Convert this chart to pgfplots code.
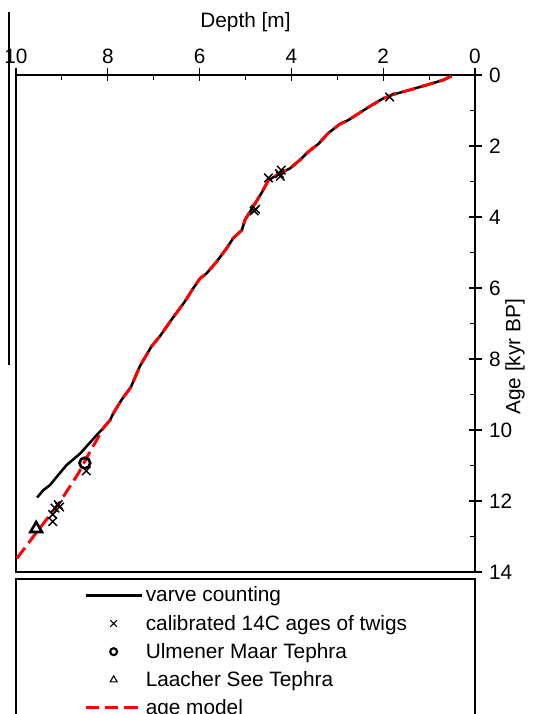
\documentclass[border=0pt]{standalone}
\usepackage{fontspec}
\setmainfont{Liberation Sans}
\usepackage{pgfplots}
\pgfplotsset{compat=1.18}
\begin{document}
\begin{tikzpicture}
\begin{axis}[
  at={(0,0)}, anchor=south west,
  scale only axis,
  width=344.25pt, height=372.75pt,
  font=\fontsize{15.6pt}{18pt}\selectfont,
  /pgf/number format/assume math mode=true,
  x dir=reverse, y dir=reverse,
  xmin=0, xmax=10, ymin=0, ymax=14,
  xtick={0,2,4,6,8,10}, ytick={0,2,4,6,8,10,12,14},
  minor x tick num=1, minor y tick num=1,
  xtick pos=right, ytick pos=right,
  xticklabel pos=right, yticklabel pos=right,
  tick align=inside,
  major tick length=4.5pt, minor tick length=3.75pt,
  tick style={black, line width=0.8pt},
  axis line style={line width=0.8pt},
  extra x ticks={0,2,4,6,8,10}, extra x tick labels={},
  extra y ticks={0,2,4,6,8,10,12,14}, extra y tick labels={},
  extra tick style={tick align=outside, major tick length=5.5pt},
  xticklabel style={yshift=5pt},
  yticklabel style={xshift=7pt},
  xlabel={Depth [m]},
  ylabel={Age [kyr BP]},
  xlabel style={at={(axis description cs:0.5,1)}, anchor=center, yshift=39.75pt},
  ylabel style={at={(axis description cs:1.087,0.433)}, anchor=center},
  legend cell align=left,
  legend image code/.code={\draw[mark repeat=2,mark phase=2,#1] plot coordinates {(0pt,0pt) (21pt,0pt) (42pt,0pt)};},
  legend style={at={(axis description cs:0.148,-0.024)}, anchor=north west, draw=none, fill=none,
    inner xsep=0pt, inner ysep=0pt, row sep=4.3pt, font=\fontsize{15.6pt}{18pt}\selectfont},
]
% varve counting
\addplot[black, line width=1.9pt, forget plot] coordinates {
(0.51,0.03) (0.69,0.14) (1.05,0.28) (1.42,0.42) (1.81,0.56) (2.0,0.66) (2.25,0.85) (2.47,1.03)
(2.76,1.27) (2.94,1.38) (3.2,1.64) (3.41,1.94) (3.63,2.16) (3.81,2.39) (4.03,2.63) (4.25,2.77)
(4.5,2.96) (4.64,3.3) (4.82,3.68) (5.01,4.08) (5.08,4.37) (5.27,4.6) (5.41,4.88) (5.63,5.26)
(5.85,5.59) (5.99,5.73) (6.14,6.01) (6.32,6.38) (6.6,6.87) (6.86,7.35) (7.05,7.65) (7.3,8.2)
(7.5,8.8) (7.7,9.15) (7.88,9.53) (7.95,9.72) (8.1,9.95) (8.24,10.14) (8.6,10.66) (8.9,10.99)
(9.26,11.55) (9.4,11.69) (9.54,11.9)
};
% age model
\addplot[red, line width=2.2pt, dash pattern=on 10pt off 4.5pt, forget plot] coordinates {
(0.51,0.03) (0.69,0.14) (1.05,0.28) (1.42,0.42) (1.81,0.56) (2.0,0.66) (2.25,0.85) (2.47,1.03)
(2.76,1.27) (2.94,1.38) (3.2,1.64) (3.41,1.94) (3.63,2.16) (3.81,2.39) (4.03,2.63) (4.25,2.77)
(4.5,2.96) (4.64,3.3) (4.82,3.68) (5.01,4.08) (5.08,4.37) (5.27,4.6) (5.41,4.88) (5.63,5.26)
(5.85,5.59) (5.99,5.73) (6.14,6.01) (6.32,6.38) (6.6,6.87) (6.86,7.35) (7.05,7.65) (7.3,8.2)
(7.5,8.8) (7.7,9.15) (7.88,9.53) (7.95,9.72) (8.1,9.95) (8.24,10.28) (8.35,10.52) (8.64,11.22)
(9.04,12.02) (9.4,12.63) (9.62,13.0) (10,13.65)
};
% calibrated 14C ages
\addplot[only marks, mark=x, mark size=4.5pt, black, line width=1.1pt, forget plot] coordinates {
(1.86,0.62) (4.22,2.68) (4.26,2.78) (4.5,2.9) (4.24,2.85) (4.78,3.78) (4.81,3.83)
(8.47,11.15) (9.08,12.1) (9.15,12.2) (9.05,12.17) (9.2,12.38) (9.2,12.58)
};
% Ulmener Maar Tephra
\addplot[only marks, mark=o, mark size=4pt, black, line width=2pt, forget plot] coordinates {(8.5,10.93)};
% Laacher See Tephra
\addplot[only marks, mark=triangle, mark size=5pt, black, line width=2pt, forget plot] coordinates {(9.56,12.78)};

\addlegendimage{black, line width=1.9pt}
\addlegendentry{varve counting}
\addlegendimage{only marks, mark=x, mark size=3.6pt, black, line width=0.8pt}
\addlegendentry{calibrated 14C ages of twigs}
\addlegendimage{only marks, mark=o, mark size=2.6pt, black, line width=1.6pt}
\addlegendentry{Ulmener Maar Tephra}
\addlegendimage{only marks, mark=triangle, mark size=3pt, black, line width=0.8pt}
\addlegendentry{Laacher See Tephra}
\addlegendimage{red, line width=2.2pt, dash pattern=on 10pt off 4.5pt}
\addlegendentry{age model}
\end{axis}
\draw[line width=0.8pt] (0,-5.25pt) rectangle (344.25pt,-120pt);
\draw[line width=1pt] (-5.25pt,155.25pt) -- (-5.25pt,420pt);
\pgfresetboundingbox
\path[use as bounding box] (-12pt,-106.5pt) rectangle (394.5pt,429pt);
\end{tikzpicture}
\end{document}
